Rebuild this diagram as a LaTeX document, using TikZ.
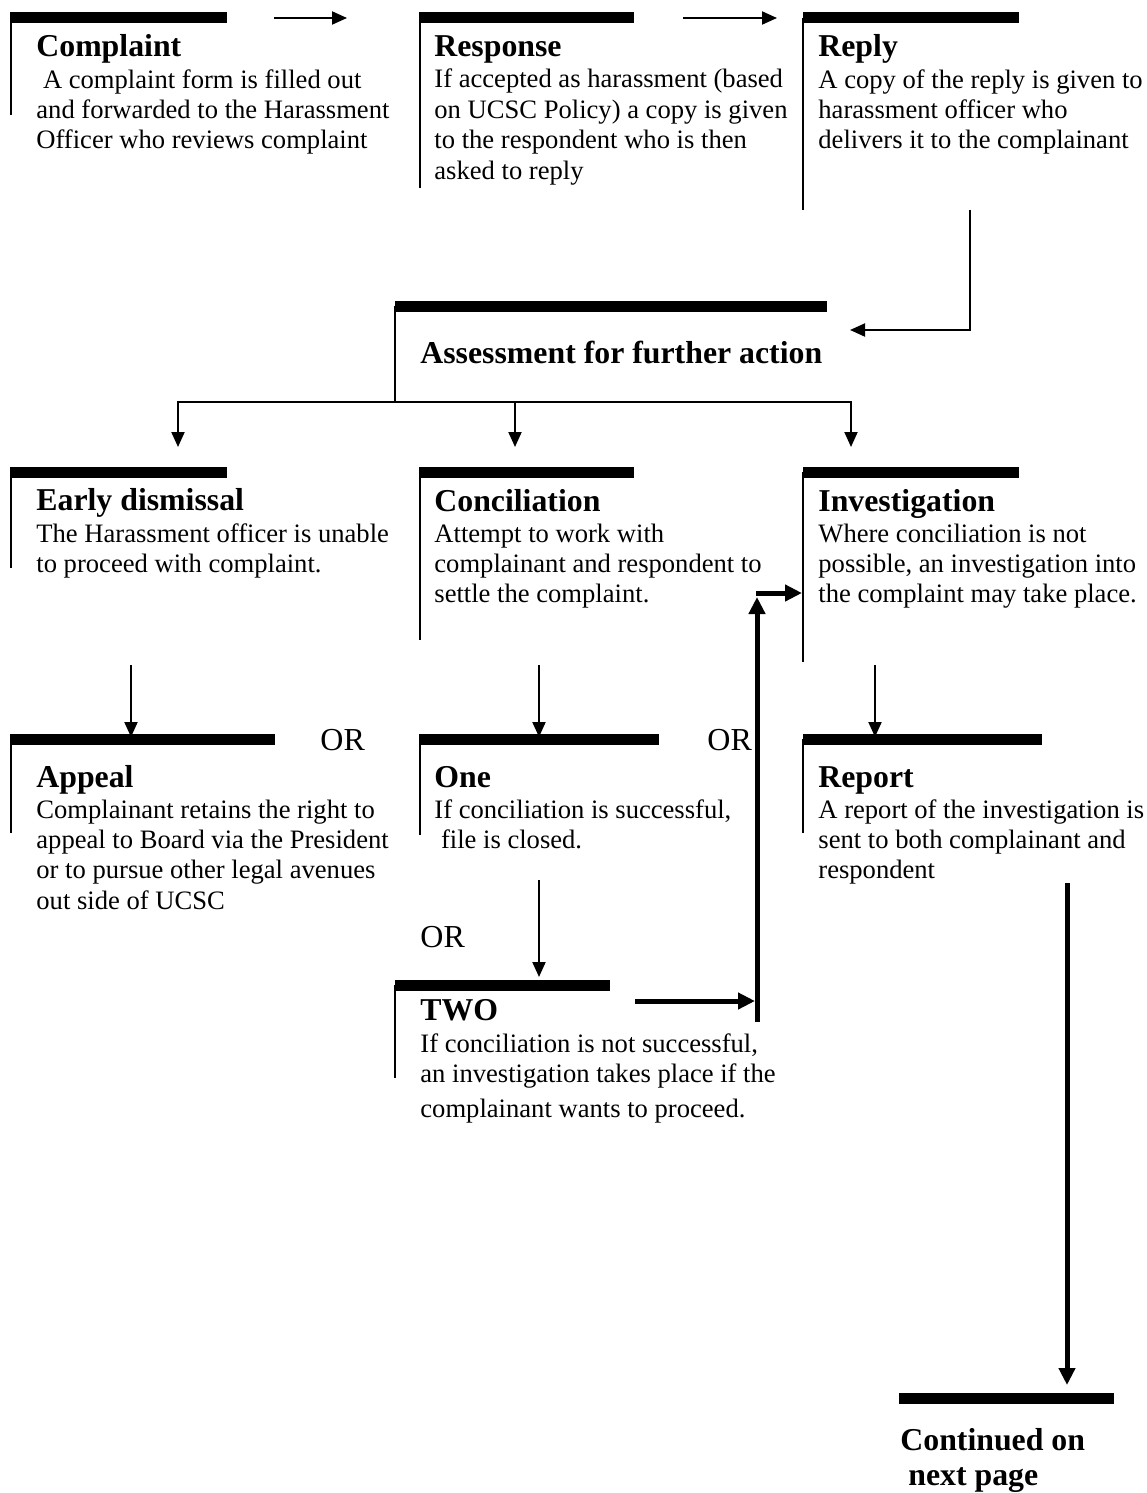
\documentclass[tikz,border=0pt]{standalone}
\usepackage{fontspec}
\setmainfont{Liberation Serif}
\usetikzlibrary{arrows.meta}
\begin{document}
\begin{tikzpicture}[x=0.5pt,y=-0.5pt,
 ttl/.style={anchor=base west,inner sep=0pt,font=\fontsize{15.9}{17.5}\selectfont\bfseries},
 bdy/.style={anchor=base west,inner sep=0pt,align=left,font=\fontsize{13.3}{15.2}\selectfont},
 ortxt/.style={anchor=base west,inner sep=0pt,font=\fontsize{16}{18}\selectfont},
 topbar/.style={line width=5.5pt},
 side/.style={line width=1pt},
 arr/.style={line width=1pt,-{Triangle[length=7.5pt,width=6.5pt]}},
 bigarr/.style={line width=2.5pt,-{Triangle[length=8.5pt,width=8pt]}}]
\fill[white] (0,0) rectangle (1146,1493);
\useasboundingbox (0,0) rectangle (1146,1493);

% ---- Row 1 (body nodes anchored at the baseline of their last line)
\draw[topbar] (10,18) -- (227,18);
\draw[side] (11,18) -- (11,115);
\node[ttl] (complaint) at (36,57) {Complaint};
\node[bdy] (complaintb) at (36,148.8) {\mbox{}~A complaint form is filled out\\and forwarded to the Harassment\\Officer who reviews complaint};

\coordinate (a1s) at (274,18); \coordinate (a1e) at (347,18);
\draw[arr] (a1s) -- (a1e);

\draw[topbar] (419,18) -- (634,18);
\draw[side] (420,18) -- (420,188);
\node[ttl] (response) at (434,57) {Response};
\node[bdy] (responseb) at (434,179.2) {If accepted as harassment (based\\on UCSC Policy) a copy is given\\to the respondent who is then\\asked to reply};

\coordinate (a2s) at (683,18); \coordinate (a2e) at (777,18);
\draw[arr] (a2s) -- (a2e);

\draw[topbar] (803,18) -- (1019,18);
\draw[side] (803,18) -- (803,210);
\node[ttl] (reply) at (818,57) {Reply};
\node[bdy] (replyb) at (818,148.8) {A copy of the reply is given to\\harassment officer who\\delivers it to the complainant};

\coordinate (r1) at (970,210); \coordinate (r2) at (850,330);
\draw[arr] (r1) |- (r2);

% ---- Assessment
\draw[topbar] (395,306) -- (827,306);
\draw[side] (395,306) -- (395,402);
\node[ttl] (assess) at (420,363) {Assessment for further action};
\coordinate (br) at (395,402);
\coordinate (edtop) at (178,447);
\coordinate (cotop) at (515,447);
\coordinate (intop) at (851,447);
\draw[arr] (br) -| (edtop);
\draw[arr] (br) -| (cotop);
\draw[arr] (br) -| (intop);

% ---- Row 2
\draw[topbar] (10,472) -- (227,472);
\draw[side] (11,472) -- (11,568);
\node[ttl] (early) at (36,510) {Early dismissal};
\node[bdy] (earlyb) at (36,572.4) {The Harassment officer is unable\\to proceed with complaint.};

\draw[topbar] (419,472) -- (634,472);
\draw[side] (420,472) -- (420,640);
\node[ttl] (concil) at (434,511) {Conciliation};
\node[bdy] (concilb) at (434,602.8) {Attempt to work with\\complainant and respondent to\\settle the complaint.};

\draw[topbar] (803,472) -- (1019,472);
\draw[side] (803,472) -- (803,662);
\node[ttl] (invest) at (818,511) {Investigation};
\node[bdy] (investb) at (818,602.8) {Where conciliation is not\\possible, an investigation into\\the complaint may take place.};

\coordinate (d1s) at (131,665); \coordinate (d1e) at (131,737);
\coordinate (d2s) at (539,665); \coordinate (d2e) at (539,737);
\coordinate (d3s) at (875,665); \coordinate (d3e) at (875,737);
\draw[arr] (d1s) -- (d1e);
\draw[arr] (d2s) -- (d2e);
\draw[arr] (d3s) -- (d3e);

% ---- Row 3
\draw[topbar] (10,739) -- (275,739);
\draw[side] (11,739) -- (11,833);
\node[ttl] (appeal) at (36,787) {Appeal};
\node[bdy] (appealb) at (36,909.2) {Complainant retains the right to\\appeal to Board via the President\\or to pursue other legal avenues\\out side of UCSC};

\node[ortxt] (or1) at (320,750) {OR};

\draw[topbar] (419,739) -- (659,739);
\draw[side] (420,739) -- (420,835);
\node[ttl] (one) at (434,787) {One};
\node[bdy] (oneb) at (434,848.4) {If conciliation is successful,\\\mbox{}~file is closed.};

\node[ortxt] (or2) at (707,750) {OR};

\draw[topbar] (803,739) -- (1042,739);
\draw[side] (803,739) -- (803,833);
\node[ttl] (report) at (818,787) {Report};
\node[bdy] (reportb) at (818,878.8) {A report of the investigation is\\sent to both complainant and\\respondent};

% ---- TWO
\coordinate (d4s) at (539,880); \coordinate (d4e) at (539,977);
\draw[arr] (d4s) -- (d4e);
\node[ortxt] (or3) at (420,947) {OR};

\draw[topbar] (395,985) -- (610,985);
\draw[side] (395,985) -- (395,1078);
\node[ttl] (two) at (420,1020) {TWO};
\node[bdy] (twob) at (420,1117) {If conciliation is not successful,\\an investigation takes place if the\\[2pt]complainant wants to proceed.};

\coordinate (t1) at (635,1001); \coordinate (t2) at (755,1001);
\draw[bigarr] (t1) -- (t2);
\coordinate (v1) at (757,1022); \coordinate (v2) at (757,597);
\draw[bigarr] (v1) -- (v2);
\coordinate (h1) at (756,593); \coordinate (h2) at (802,593);
\draw[bigarr] (h1) -- (h2);

% ---- Continued
\coordinate (c1) at (1067,883); \coordinate (c2) at (1067,1385);
\draw[bigarr] (c1) -- (c2);
\draw[topbar] (899,1398) -- (1114,1398);
\node[ttl,align=left] (cont) at (900,1485) {Continued on\\\mbox{}~next page};
\end{tikzpicture}
\end{document}
